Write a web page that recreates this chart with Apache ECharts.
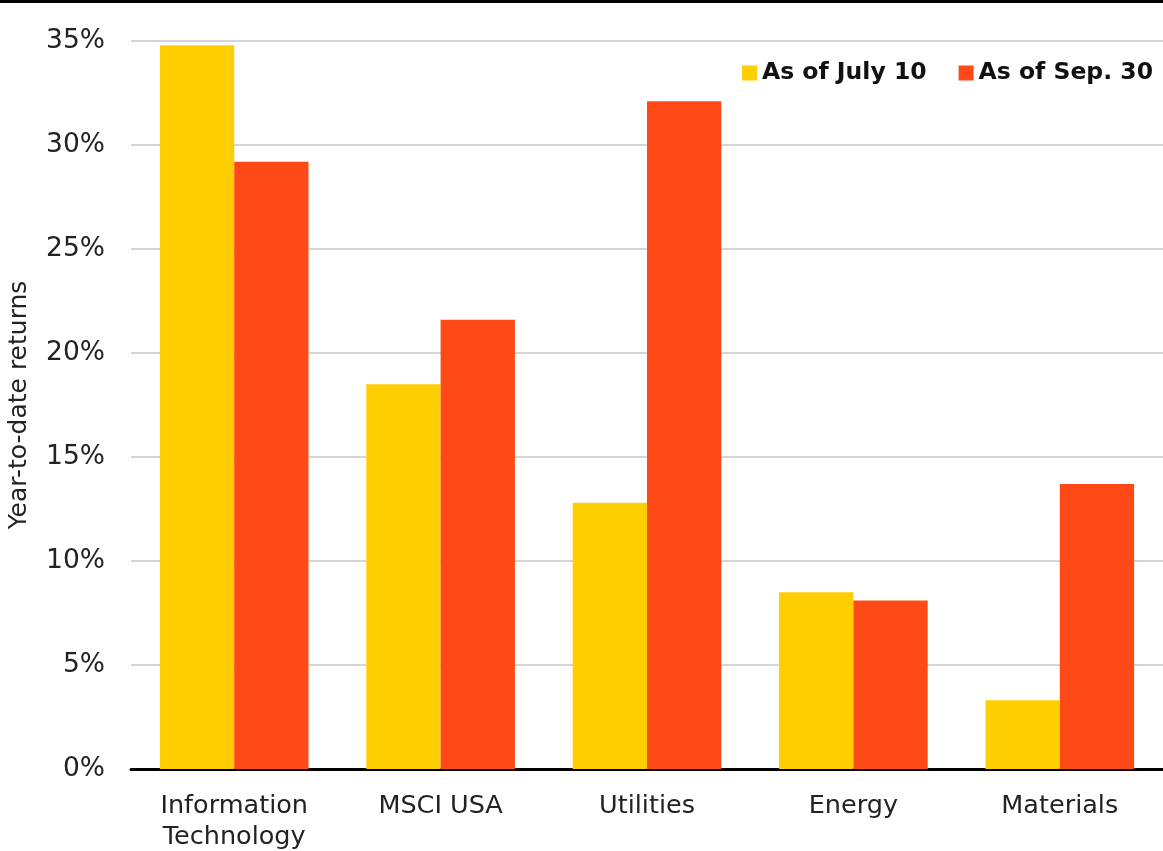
<!DOCTYPE html>
<html>
<head>
<meta charset="utf-8">
<script src="https://cdn.jsdelivr.net/npm/echarts@6/dist/echarts.min.js"></script>
<style>
  html, body { margin: 0; padding: 0; background: #fff; }
  #chart { width: 1163px; height: 851px; }
</style>
</head>
<body>
<div id="chart"></div>
<script>
// sectors and YTD returns (%)
const categories = ["Information\nTechnology", "MSCI USA", "Utilities", "Energy", "Materials"];
const julyValues = [34.8, 18.5, 12.8, 8.5, 3.3];
const sepValues = [29.2, 21.6, 32.1, 8.1, 13.7];
const seriesNames = ["As of July 10", "As of Sep. 30"];

const chart = echarts.init(document.getElementById("chart"));
const font = "'DejaVu Sans', sans-serif";

chart.setOption({
  animation: false,
  textStyle: { fontFamily: font },
  graphic: [
    { type: "rect", left: 0, top: 0, shape: { width: 1163, height: 3 }, style: { fill: "#000" } }
  ],
  legend: {
    right: 5,
    top: 56,
    itemWidth: 15,
    itemHeight: 15,
    itemGap: 32,
    itemTextGap: 7,
    icon: "rect",
    textStyle: { fontSize: 23.5, fontWeight: "bold", color: "#111", fontFamily: font },
    data: seriesNames
  },
  grid: { left: 131, right: 0, top: 41, bottom: 82, outerBoundsMode: "none", containLabel: false },
  xAxis: {
    type: "category",
    data: categories,
    axisLine: { lineStyle: { color: "#000", width: 3 } },
    axisTick: { show: false },
    axisLabel: { fontSize: 25.5, color: "#222", margin: 22, lineHeight: 31, fontFamily: font }
  },
  yAxis: {
    type: "value",
    min: 0,
    max: 35,
    interval: 5,
    name: "Year-to-date returns",
    nameLocation: "middle",
    nameGap: 99,
    nameTextStyle: { fontSize: 25, color: "#222", fontFamily: font },
    axisLine: { show: false },
    axisTick: { show: false },
    axisLabel: { formatter: "{value}%", fontSize: 26.5, color: "#222", margin: 26, fontFamily: font },
    splitLine: { lineStyle: { color: "#d4d4da", width: 2 } }
  },
  series: [
    {
      name: seriesNames[0],
      type: "bar",
      data: julyValues,
      barGap: "0%",
      barCategoryGap: "28%",
      itemStyle: { color: "#FFCE00" }
    },
    {
      name: seriesNames[1],
      type: "bar",
      data: sepValues,
      itemStyle: { color: "#FF4A17" }
    }
  ]
});
</script>
</body>
</html>
